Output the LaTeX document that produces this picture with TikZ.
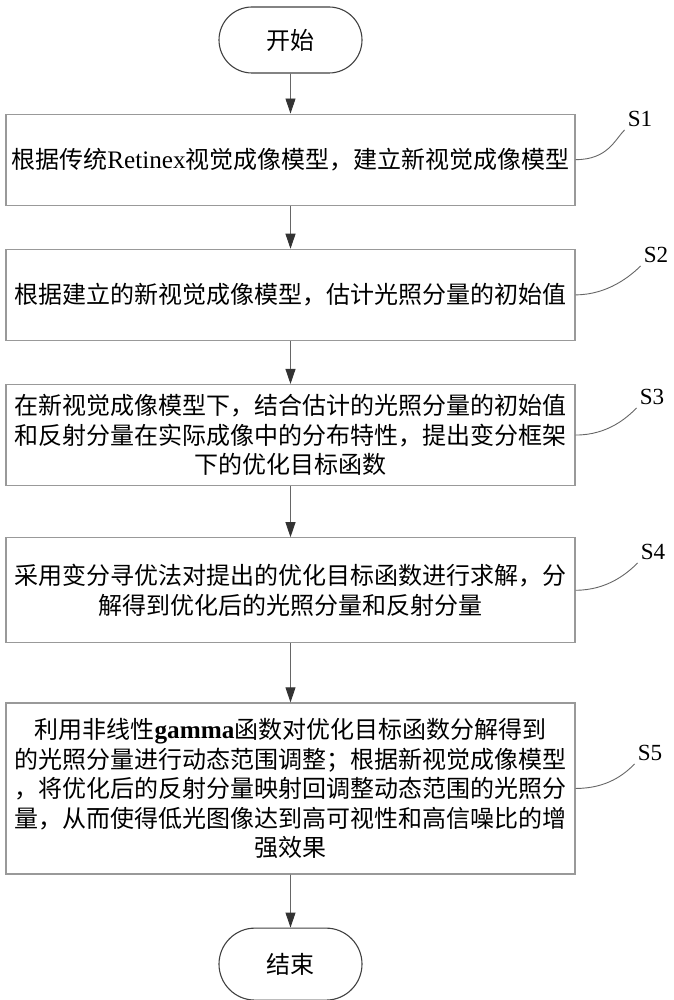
\documentclass[tikz,border=0pt]{standalone}
\usepackage{fontspec}
\setmainfont{Noto Sans CJK SC}
\newfontfamily\latin[Scale=1.05]{Liberation Serif}
\usetikzlibrary{positioning,shapes.misc,arrows.meta}

\begin{document}
\begin{tikzpicture}[x=1pt,y=-1pt,
        font=\fontsize{24}{29.5}\selectfont,
        terminal/.style={rounded rectangle,draw=black!75,line width=1.1pt,minimum width=143pt,inner sep=0pt},
        stepbox/.style={rectangle,draw=black!40,line width=1.2pt,minimum width=569pt,align=center,inner sep=0pt},
        flow/.style={draw=black!60,line width=0.9pt,-{Triangle[length=15pt,width=10pt,color=black!80,fill=black!80]}},
        tag/.style={font=\latin\fontsize{22}{22}\selectfont,inner sep=3pt},
        lead/.style={draw=black!60,line width=0.9pt}]
    \useasboundingbox (0,0) rectangle (673,1000);
        \node[terminal,minimum height=66pt] (start) at (290.5,40) {开始};
        \node[stepbox,minimum height=91pt,below=40pt of start] (s1) {根据传统{\latin Retinex}视觉成像模型，建立新视觉成像模型};
        \node[stepbox,minimum height=91pt,below=43pt of s1] (s2) {根据建立的新视觉成像模型，估计光照分量的初始值};
        \node[stepbox,minimum height=101pt,below=43pt of s2] (s3) {在新视觉成像模型下，结合估计的光照分量的初始值\\和反射分量在实际成像中的分布特性，提出变分框架\\下的优化目标函数};
        \node[stepbox,minimum height=105pt,below=51pt of s3] (s4) {采用变分寻优法对提出的优化目标函数进行求解，分\\解得到优化后的光照分量和反射分量};
        \node[stepbox,minimum height=171pt,below=59pt of s4] (s5) {利用非线性{\latin\bfseries gamma}函数对优化目标函数分解得到\\的光照分量进行动态范围调整；根据新视觉成像模型\\，将优化后的反射分量映射回调整动态范围的光照分\\量，从而使得低光图像达到高可视性和高信噪比的增\\强效果};
        \node[terminal,minimum height=72pt,below=53pt of s5] (end) {结束};
        \node[tag] (l1) at (640,119) {S1};
        \node[tag] (l2) at (656,255) {S2};
        \node[tag] (l3) at (652,397) {S3};
        \node[tag] (l4) at (653,552) {S4};
        \node[tag] (l5) at (650,753) {S5};
        \draw[flow] (start) -- (s1);
        \draw[flow] (s1) -- (s2);
        \draw[flow] (s2) -- (s3);
        \draw[flow] (s3) -- (s4);
        \draw[flow] (s4) -- (s5);
        \draw[flow] (s5) -- (end);
        \draw[lead] (s1.east) .. controls +(32,0) and +(-10,10) .. (l1.south west);
        \draw[lead] (s2.east) .. controls +(32,0) and +(-10,10) .. (l2.south west);
        \draw[lead] (s3.east) .. controls +(32,0) and +(-10,10) .. (l3.south west);
        \draw[lead] (s4.east) .. controls +(32,0) and +(-10,10) .. (l4.south west);
        \draw[lead] (s5.east) .. controls +(32,0) and +(-10,10) .. (l5.south west);
\end{tikzpicture}
\end{document}
